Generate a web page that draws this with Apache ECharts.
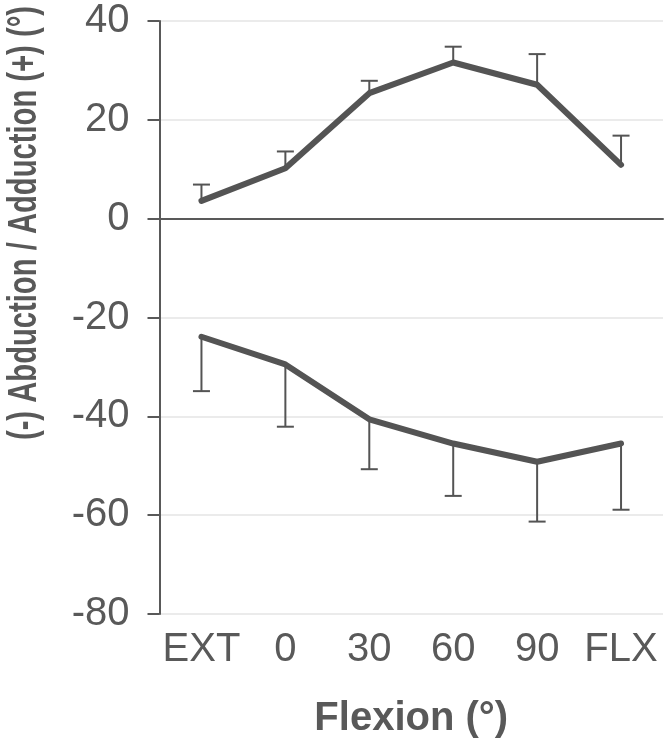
<!DOCTYPE html>
<html>
<head>
<meta charset="utf-8">
<style>
html,body{margin:0;padding:0;background:#fff;}
#chart{width:666px;height:749px;}
</style>
<script src="https://cdn.jsdelivr.net/npm/echarts@6/dist/echarts.min.js"></script>
</head>
<body>
<div id="chart"></div>
<script>
var categories = ['EXT', '0', '30', '60', '90', 'FLX'];
var adduction = [3.6, 10.2, 25.4, 31.6, 27.1, 10.9];
var adductionSD = [3.3, 3.4, 2.5, 3.2, 6.2, 5.9];
var abduction = [-23.9, -29.5, -40.6, -45.5, -49.2, -45.5];
var abductionSD = [11.0, 12.6, 10.1, 10.6, 12.1, 13.4];
var yTicks = {min: -80, max: 40, interval: 20};
var xTitle = 'Flexion (°)';
var yTitle = '(-) Abduction / Adduction (+) (°)';

var ink = '#595959';
var lineInk = '#545454';
var font = 'Liberation Sans, Arial, sans-serif';

function errData(vals, sds, sign) {
  return vals.map(function (v, i) { return [i, v, v + sign * sds[i]]; });
}

function renderErr(params, api) {
  var p0 = api.coord([api.value(0), api.value(1)]);
  var p1 = api.coord([api.value(0), api.value(2)]);
  var half = 8.5;
  var st = {stroke: lineInk, lineWidth: 2};
  return {
    type: 'group',
    children: [
      {type: 'line', shape: {x1: p0[0], y1: p0[1], x2: p1[0], y2: p1[1]}, style: st},
      {type: 'line', shape: {x1: p1[0] - half, y1: p1[1], x2: p1[0] + half, y2: p1[1]}, style: st}
    ]
  };
}

var chart = echarts.init(document.getElementById('chart'), null, {renderer: 'canvas'});
chart.setOption({
  animation: false,
  backgroundColor: '#ffffff',
  grid: {left: 159.5, right: 3, top: 21, bottom: 135, containLabel: false},
  xAxis: {
    type: 'category',
    data: categories,
    boundaryGap: true,
    name: xTitle,
    nameLocation: 'middle',
    nameGap: 85,
    nameTextStyle: {fontSize: 40, fontWeight: 'bold', color: ink, fontFamily: font},
    axisLine: {show: true, lineStyle: {color: ink, width: 2}},
    axisTick: {show: false},
    axisLabel: {fontSize: 40, color: ink, fontFamily: font, margin: 16, interval: 0},
    splitLine: {show: false}
  },
  yAxis: {
    type: 'value',
    min: yTicks.min,
    max: yTicks.max,
    interval: yTicks.interval,
    axisLine: {show: true, lineStyle: {color: ink, width: 2}},
    axisTick: {show: true, length: 12, lineStyle: {color: ink, width: 2}},
    axisLabel: {fontSize: 40, color: ink, fontFamily: font, margin: 30},
    splitLine: {show: true, lineStyle: {color: '#ebebeb', width: 2}}
  },
  graphic: [{
    type: 'text',
    x: 25,
    y: 223,
    rotation: Math.PI / 2,
    scaleX: 0.73,
    style: {
      text: yTitle,
      fill: ink,
      font: 'bold 40px "Liberation Sans", Arial, sans-serif',
      align: 'center',
      verticalAlign: 'middle'
    }
  }],
  series: [
    {
      type: 'custom',
      name: 'adductionErr',
      renderItem: renderErr,
      data: errData(adduction, adductionSD, 1),
      z: 2,
      silent: true
    },
    {
      type: 'custom',
      name: 'abductionErr',
      renderItem: renderErr,
      data: errData(abduction, abductionSD, -1),
      z: 2,
      silent: true
    },
    {
      type: 'line',
      name: 'Adduction',
      data: adduction,
      symbol: 'none',
      lineStyle: {color: lineInk, width: 6, cap: 'round', join: 'round'},
      z: 3,
      markLine: {
        silent: true,
        symbol: ['none', 'none'],
        label: {show: false},
        lineStyle: {color: ink, width: 2, type: 'solid'},
        data: [{yAxis: 0}]
      }
    },
    {
      type: 'line',
      name: 'Abduction',
      data: abduction,
      symbol: 'none',
      lineStyle: {color: lineInk, width: 6, cap: 'round', join: 'round'},
      z: 3
    }
  ]
});
</script>
</body>
</html>
